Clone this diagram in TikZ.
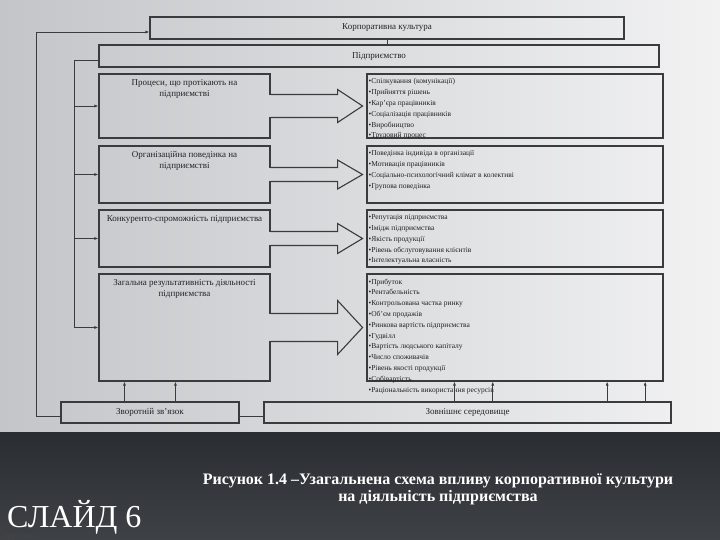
\documentclass[tikz,border=0pt]{standalone}
\usepackage{fontspec}
\setmainfont{Liberation Serif}
\newfontfamily\wmfont{Liberation Sans}
\usetikzlibrary{arrows.meta}

\definecolor{boxline}{HTML}{3A3B3D}
\definecolor{txt}{HTML}{222222}
\definecolor{bgleft}{HTML}{C3C5C8}
\definecolor{bgmid}{HTML}{E9EAEC}
\definecolor{bgright}{HTML}{F2F2F3}
\definecolor{bandtop}{HTML}{2A2D31}
\definecolor{bandmid}{HTML}{5A5D61}
\definecolor{bandbot}{HTML}{3E4145}

\tikzset{
  bgshade/.style={left color=bgleft, middle color=bgmid, right color=bgright},
  box/.style={draw=boxline, line width=1.1pt, rectangle, inner sep=0pt},
  conn/.style={draw=boxline, line width=0.9pt},
  tip/.style={-{Latex[length=4pt,width=3pt]}},
  title/.style={font=\fontsize{9}{10.4}\selectfont, text=txt, align=center, inner sep=0pt},
  list/.style={font=\fontsize{7.5}{10.8}\selectfont, text=txt, align=left, inner sep=0pt, anchor=north west}
}

\begin{document}
\begin{tikzpicture}[x=1pt,y=-1pt]
  \useasboundingbox (0,0) rectangle (720,540);
  % background
  \shade[bgshade] (0,0) rectangle (720,432);
  \shade[top color=bandtop, middle color=bandmid, bottom color=bandbot] (0,432) rectangle (720,540);

  % top boxes
  \node[box, minimum width=474pt, minimum height=22pt] (kult) at (387,28) {};
  \node[title] (kultt) at (kult.center) {Корпоративна культура};
  \node[box, minimum width=560pt, minimum height=22pt] (pidpr) at (379,56) {};
  \node[title] (pidprt) at (pidpr.center) {Підприємство};
  \draw[conn] (kult.south) -- (kult.south |- pidpr.north);

  % left column
  \node[box, minimum width=171pt, minimum height=64pt] (proc) at (184.5,106) {};
  \node[box, minimum width=171pt, minimum height=57pt] (org) at (184.5,174.5) {};
  \node[box, minimum width=171pt, minimum height=57pt] (konk) at (184.5,238.5) {};
  \node[box, minimum width=171pt, minimum height=107pt] (zah) at (184.5,327.5) {};
  \node[title, anchor=north] (proct) at ([yshift=-6pt]proc.north) {Процеси, що протікають на\\підприємстві};
  \node[title, anchor=north] (orgt) at ([yshift=-6pt]org.north) {Організаційна поведінка на\\підприємстві};
  \node[title, anchor=north] (konkt) at ([yshift=-6pt]konk.north) {Конкуренто-спроможність підприємства};
  \node[title, anchor=north] (zaht) at ([yshift=-6pt]zah.north) {Загальна результативність діяльності\\підприємства};

  % right column
  \node[box, minimum width=296pt, minimum height=64pt] (rproc) at (515,106) {};
  \node[box, minimum width=296pt, minimum height=57pt] (rorg) at (515,174.5) {};
  \node[box, minimum width=296pt, minimum height=57pt] (rkonk) at (515,238.5) {};
  \node[box, minimum width=296pt, minimum height=107pt] (rzah) at (515,327.5) {};
  \node[list] (rproct) at ([xshift=2pt,yshift=-5pt]rproc.north west)
    {•Спілкування (комунікації)\\•Прийняття рішень\\•Кар’єра працівників\\•Соціалізація працівників\\•Виробництво\\•Трудовий процес};
  \node[list] (rorgt) at ([xshift=2pt,yshift=-5pt]rorg.north west)
    {•Поведінка індивіда в організації\\•Мотивація працівників\\•Соціально-психологічний клімат в колективі\\•Групова поведінка};
  \node[list] (rkonkt) at ([xshift=2pt,yshift=-5pt]rkonk.north west)
    {•Репутація підприємства\\•Імідж підприємства\\•Якість продукції\\•Рівень обслуговування клієнтів\\•Інтелектуальна власність};
  \node[list] (rzaht) at ([xshift=2pt,yshift=-5pt]rzah.north west)
    {•Прибуток\\•Рентабельність\\•Контрольована частка ринку\\•Об’єм продажів\\•Ринкова вартість підприємства\\•Гудвілл\\•Вартість людського капіталу\\•Число споживачів\\•Рівень якості продукції\\•Собівартість\\•Раціональність використання ресурсів};

  % block arrows
  \foreach \b/\s/\h in {proc/11.5/16.5, org/7/14.5, konk/7/15, zah/14/27} {
    \begin{scope}
      \clip (\b.east) ++(-1.5,{-\s+0.6}) rectangle ++(3,{2*\s-1.2});
      \shade[bgshade] (0,0) rectangle (720,432);
    \end{scope}
    \draw[conn, line width=1.1pt, line join=miter]
      (\b.east) ++(0,-\s) -- ++(67,0) -- ++(0,{\s-\h}) -- ++(25,\h)
      -- ++(-25,\h) -- ++(0,{\s-\h}) -- ++(-67,0);
  }

  % bottom boxes
  \node[box, minimum width=178pt, minimum height=21pt] (zvzv) at (150,412.5) {};
  \node[title] (zvzvt) at (zvzv.center) {Зворотній зв’язок};
  \node[box, minimum width=407pt, minimum height=21pt] (sered) at (467.5,412.5) {};
  \node[title] (seredt) at (sered.center) {Зовнішнє середовище};
  \draw[conn] ([yshift=-4pt]zvzv.east) -- ([yshift=-4pt]sered.west);

  % feedback lines
  \coordinate (outer) at (36,32);
  \coordinate (inner) at (74,60);
  \draw[conn, tip] ([yshift=-4pt]zvzv.west) -| (outer) -- (outer -| kult.west);
  \draw[conn, tip] (pidpr.west |- inner) -- (inner) |- (zah.west);
  \foreach \b in {proc, org, konk}
    \draw[conn, tip] (inner |- \b.west) -- (\b.west);

  % arrows up
  \foreach \d in {64, 115}
    \draw[conn, tip] ([xshift=\d pt]zvzv.north west) -- ([xshift=\d pt]zvzv.north west |- zah.south);
  \foreach \d in {191, 229.3, 343.7, 381.7}
    \draw[conn, tip] ([xshift=\d pt]sered.north west) -- ([xshift=\d pt]sered.north west |- rzah.south);

  % caption
  \node[font=\bfseries\fontsize{16}{17}\selectfont, text=white, align=center] (capt) at (438,489)
    {Рисунок 1.4 –Узагальнена схема впливу корпоративної культури\\на діяльність підприємства};
  \node[font=\wmfont\fontsize{7.5}{7.5}\selectfont, text=gray!55!black, anchor=base west, inner sep=0pt] (wm) at (5,539.5) {fppt.com};
  \node[font=\fontsize{32}{33}\selectfont, text=white, anchor=base west, inner sep=0pt] (slide) at (7,527.5) {СЛАЙД 6};
\end{tikzpicture}
\end{document}
